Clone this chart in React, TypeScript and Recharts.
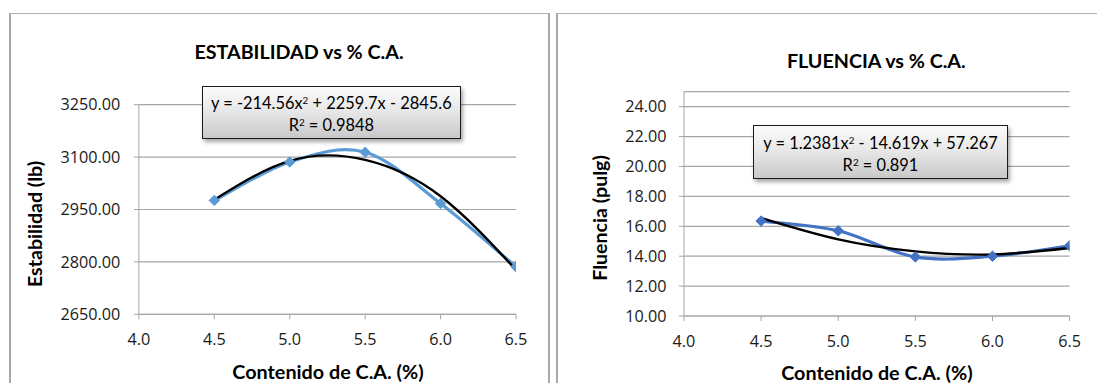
import React from 'react';
import { LineChart, Line, XAxis, YAxis, CartesianGrid } from 'recharts';

const caContent = [4.5, 5.0, 5.5, 6.0, 6.5];
const xTicks = [4.0, 4.5, 5.0, 5.5, 6.0, 6.5];
const estabilidad = [2976, 3086, 3114, 2967, 2786];
const estabilidadTrend = [2978, 3089, 3092, 2988, 2777];
const estabilidadTicks = [2650, 2800, 2950, 3100, 3250];
const fluencia = [16.35, 15.7, 13.95, 14.0, 14.7];
const fluenciaTrend = [16.55, 15.12, 14.32, 14.12, 14.55];
const fluenciaTicks = [10, 12, 14, 16, 18, 20, 22, 24];

const estData = caContent.map((x, i) => ({ x, v: estabilidad[i], t: estabilidadTrend[i] }));
const fluData = caContent.map((x, i) => ({ x, v: fluencia[i], t: fluenciaTrend[i] }));

const FONT = 'Lato, "Open Sans", sans-serif';
const TICK_FONT = '"Open Sans", "Noto Sans", sans-serif';
const GRID = '#a6a6a6';

const excelSmooth = (context: any) => {
  let pts: number[][] = [];
  return {
    areaStart() {},
    areaEnd() {},
    lineStart() {
      pts = [];
    },
    point(x: number, y: number) {
      pts.push([+x, +y]);
    },
    lineEnd() {
      const n = pts.length;
      if (!n) return;
      context.moveTo(pts[0][0], pts[0][1]);
      for (let i = 0; i < n - 1; i++) {
        const p0 = pts[Math.max(i - 1, 0)];
        const p1 = pts[i];
        const p2 = pts[i + 1];
        const p3 = pts[Math.min(i + 2, n - 1)];
        context.bezierCurveTo(
          p1[0] + (p2[0] - p0[0]) / 6,
          p1[1] + (p2[1] - p0[1]) / 6,
          p2[0] - (p3[0] - p1[0]) / 6,
          p2[1] - (p3[1] - p1[1]) / 6,
          p2[0],
          p2[1]
        );
      }
    },
  };
};

const diamond = (color: string) => (props: any) => {
  const { cx, cy, index } = props;
  const r = 5.2;
  return (
    <polygon
      key={`d-${index}`}
      points={`${cx},${cy - r} ${cx + r},${cy} ${cx},${cy + r} ${cx - r},${cy}`}
      fill={color}
      stroke={color}
      strokeWidth={1}
    />
  );
};

const TICK_SIZE = 16.2;

const xTick = (props: any) => {
  const { x, y, payload } = props;
  return (
    <text
      x={x}
      y={y}
      dy="0.71em"
      textAnchor="middle"
      style={{ fontFamily: TICK_FONT, fontSize: TICK_SIZE, fill: '#1a1a1a' }}
    >
      {Number(payload.value).toFixed(1)}
    </text>
  );
};

const yTick = (props: any) => {
  const { x, y, payload } = props;
  return (
    <text
      x={x}
      y={y}
      dy="0.355em"
      textAnchor="end"
      style={{ fontFamily: TICK_FONT, fontSize: TICK_SIZE, fill: '#1a1a1a' }}
    >
      {Number(payload.value).toFixed(2)}
    </text>
  );
};

const Centered = ({ x, y, size, bold, rotate, children }: any) => (
  <div
    style={{
      position: 'absolute',
      left: x,
      top: y,
      transform: `translate(-50%, -50%)${rotate ? ' rotate(-90deg)' : ''}`,
      whiteSpace: 'nowrap',
      fontFamily: FONT,
      fontSize: size,
      fontWeight: bold ? 700 : 400,
      lineHeight: 1,
      color: '#000',
    }}
  >
    {children}
  </div>
);

const supStyle: React.CSSProperties = { fontSize: '0.6em', verticalAlign: '0.55em', lineHeight: 0 };

const EqBox = ({ left, top, width, height, line1, line2 }: any) => (
  <div
    style={{
      position: 'absolute',
      left,
      top,
      width,
      height,
      boxSizing: 'border-box',
      border: '1.5px solid #1a1a1a',
      background: 'linear-gradient(to bottom, #fbfbfb 0%, #e6e6e6 50%, #c9c9c9 100%)',
      boxShadow: '2px 3px 4px rgba(0,0,0,0.35)',
      fontFamily: FONT,
      fontSize: 16.4,
      color: '#000',
      textAlign: 'center',
      display: 'flex',
      flexDirection: 'column',
      justifyContent: 'center',
      lineHeight: '22px',
      paddingTop: 3,
    }}
  >
    <div>{line1}</div>
    <div>{line2}</div>
  </div>
);

export default function App() {
  return (
    <div
      style={{
        position: 'absolute',
        left: 0,
        top: 0,
        width: 1097,
        height: 383,
        overflow: 'hidden',
        background: '#fff',
      }}
    >
      {/* frames */}
      <div
        style={{
          position: 'absolute',
          left: 9,
          top: 13,
          width: 541,
          height: 400,
          boxSizing: 'border-box',
          borderTop: '1.5px solid #b0b0b0',
          borderLeft: '2px solid #a8a8a8',
          borderRight: '2px solid #a8a8a8',
        }}
      />
      <div
        style={{
          position: 'absolute',
          left: 556,
          top: 13,
          width: 600,
          height: 400,
          boxSizing: 'border-box',
          borderTop: '1.5px solid #b0b0b0',
          borderLeft: '2px solid #a8a8a8',
        }}
      />

      {/* Left chart */}
      <div style={{ position: 'absolute', left: 0, top: 0 }}>
        <LineChart
          width={549}
          height={383}
          data={estData}
          margin={{ top: 104.7, right: 33, left: 0, bottom: 38.7 }}
        >
          <CartesianGrid vertical={false} stroke={GRID} strokeWidth={1.2} />
          <XAxis
            dataKey="x"
            type="number"
            domain={[4, 6.5]}
            ticks={xTicks}
            allowDataOverflow
            height={30}
            stroke={GRID}
            tickLine={{ stroke: GRID }}
            tickSize={5}
            tickMargin={14}
            tick={xTick}
            interval={0}
          />
          <YAxis
            type="number"
            domain={[2650, 3250]}
            ticks={estabilidadTicks}
            allowDataOverflow
            width={138.9}
            stroke={GRID}
            tickLine={{ stroke: GRID }}
            tickSize={5}
            tickMargin={13.6}
            tick={yTick}
            interval={0}
          />
          <Line
            dataKey="v"
            type={excelSmooth as any}
            stroke="#5b9bd5"
            strokeWidth={3.2}
            dot={diamond('#5b9bd5')}
            activeDot={false}
            isAnimationActive={false}
          />
          <Line
            dataKey="t"
            type="natural"
            stroke="#000"
            strokeWidth={2.4}
            dot={false}
            activeDot={false}
            isAnimationActive={false}
          />
        </LineChart>
      </div>

      {/* Right chart */}
      <div style={{ position: 'absolute', left: 556, top: 0 }}>
        <LineChart
          width={541}
          height={383}
          data={fluData}
          margin={{ top: 91.7, right: 27.4, left: 0, bottom: 37 }}
        >
          <CartesianGrid vertical={false} stroke={GRID} strokeWidth={1.2} />
          <XAxis
            dataKey="x"
            type="number"
            domain={[4, 6.5]}
            ticks={xTicks}
            allowDataOverflow
            height={30}
            stroke={GRID}
            tickLine={{ stroke: GRID }}
            tickSize={5}
            tickMargin={14}
            tick={xTick}
            interval={0}
          />
          <YAxis
            type="number"
            domain={[10, 25]}
            ticks={fluenciaTicks}
            allowDataOverflow
            width={128}
            stroke={GRID}
            tickLine={{ stroke: GRID }}
            tickSize={5}
            tickMargin={12.4}
            tick={yTick}
            interval={0}
          />
          <Line
            dataKey="v"
            type={excelSmooth as any}
            stroke="#4472c4"
            strokeWidth={3.2}
            dot={diamond('#4472c4')}
            activeDot={false}
            isAnimationActive={false}
          />
          <Line
            dataKey="t"
            type="natural"
            stroke="#000"
            strokeWidth={2.4}
            dot={false}
            activeDot={false}
            isAnimationActive={false}
          />
        </LineChart>
      </div>

      {/* Titles & labels */}
      <Centered x={299} y={52} size={19.7} bold>
        ESTABILIDAD vs % C.A.
      </Centered>
      <Centered x={876.3} y={61} size={19.7} bold>
        FLUENCIA vs % C.A.
      </Centered>
      <Centered x={35} y={224} size={19.6} bold rotate>
        Estabilidad (lb)
      </Centered>
      <Centered x={599.9} y={217.5} size={19.6} bold rotate>
        Fluencia (pulg)
      </Centered>
      <Centered x={328} y={371.5} size={19.8} bold>
        Contenido de C.A. (%)
      </Centered>
      <Centered x={876.9} y={373} size={19.8} bold>
        Contenido de C.A. (%)
      </Centered>

      <EqBox
        left={201.7}
        top={85.7}
        width={259.3}
        height={53.6}
        line1={<span>y = -214.56x<sup style={supStyle}>2</sup> + 2259.7x - 2845.6</span>}
        line2={<span>R<sup style={supStyle}>2</sup> = 0.9848</span>}
      />
      <EqBox
        left={753.3}
        top={125}
        width={254.4}
        height={54.3}
        line1={<span>y = 1.2381x<sup style={supStyle}>2</sup> - 14.619x + 57.267</span>}
        line2={<span>R<sup style={supStyle}>2</sup> = 0.891</span>}
      />
    </div>
  );
}
